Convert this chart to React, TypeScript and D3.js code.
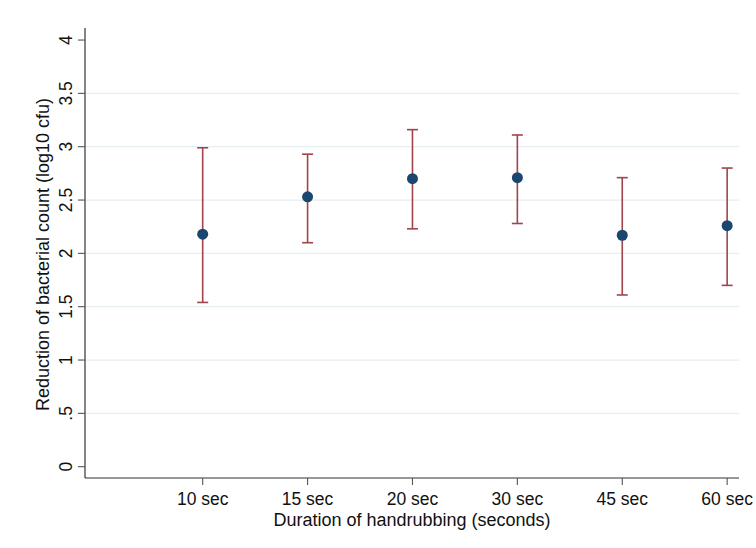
import React from "react";
import * as d3 from "d3";

const categories: string[] = ["10 sec", "15 sec", "20 sec", "30 sec", "45 sec", "60 sec"];
const means: number[] = [2.18, 2.53, 2.7, 2.71, 2.17, 2.26];
const lowers: number[] = [1.54, 2.1, 2.23, 2.28, 1.61, 1.7];
const uppers: number[] = [2.99, 2.93, 3.16, 3.11, 2.71, 2.8];
const yTicks: number[] = [0, 0.5, 1, 1.5, 2, 2.5, 3, 3.5, 4];
const yTickLabels: string[] = ["0", ".5", "1", "1.5", "2", "2.5", "3", "3.5", "4"];
const gridValues: number[] = [0.5, 1, 1.5, 2, 2.5, 3, 3.5];
const xTitle = "Duration of handrubbing (seconds)";
const yTitle = "Reduction of bacterial count (log10 cfu)";

const W = 756;
const H = 548;
const left = 85;
const right = 739;
const top = 28;
const bottom = 478;
const FONT = "'Liberation Sans', Arial, Helvetica, sans-serif";

export default function App() {
  const x = d3.scaleLinear().domain([-1.122, 5.113]).range([left, right]);
  const y = d3.scaleLinear().domain([-0.106, 4.113]).range([bottom, top]);
  const cap = 5.5;

  return (
    <svg
      width={W}
      height={H}
      style={{ position: "absolute", left: 0, top: 0, background: "#fff" }}
      fontFamily={FONT}
    >
      <rect x={0} y={0} width={W} height={H} fill="#fff" />
      {gridValues.map((v) => (
        <line key={"g" + v} x1={left} x2={right} y1={y(v)} y2={y(v)} stroke="#e6eef1" strokeWidth={1.3} />
      ))}
      {/* axes */}
      <line x1={left} x2={left} y1={top} y2={bottom} stroke="#333" strokeWidth={1.2} />
      <line x1={left} x2={right} y1={bottom} y2={bottom} stroke="#333" strokeWidth={1.2} />
      {yTicks.map((v, i) => (
        <g key={"yt" + v}>
          <line x1={left - 7} x2={left} y1={y(v)} y2={y(v)} stroke="#555" strokeWidth={1.1} />
          <text
            transform={`translate(${72},${y(v)}) rotate(-90)`}
            textAnchor="middle"
            fontSize={17.5}
            fill="#111"
          >
            {yTickLabels[i]}
          </text>
        </g>
      ))}
      {categories.map((c, i) => (
        <g key={"xt" + c}>
          <line x1={x(i)} x2={x(i)} y1={bottom} y2={bottom + 7} stroke="#555" strokeWidth={1.1} />
          <text x={x(i)} y={505} textAnchor="middle" fontSize={17.5} fill="#111">
            {c}
          </text>
        </g>
      ))}
      <text x={412} y={526} textAnchor="middle" fontSize={18} fill="#111">
        {xTitle}
      </text>
      <text
        transform={`translate(${48.5},${254.5}) rotate(-90)`}
        textAnchor="middle"
        fontSize={18}
        fill="#111"
      >
        {yTitle}
      </text>
      {/* error bars */}
      {categories.map((c, i) => (
        <g key={"eb" + c} stroke="#a0444c" strokeWidth={1.6}>
          <line x1={x(i)} x2={x(i)} y1={y(lowers[i])} y2={y(uppers[i])} />
          <line x1={x(i) - cap} x2={x(i) + cap} y1={y(lowers[i])} y2={y(lowers[i])} />
          <line x1={x(i) - cap} x2={x(i) + cap} y1={y(uppers[i])} y2={y(uppers[i])} />
        </g>
      ))}
      {categories.map((c, i) => (
        <circle key={"pt" + c} cx={x(i)} cy={y(means[i])} r={5.5} fill="#1a476f" />
      ))}
    </svg>
  );
}
